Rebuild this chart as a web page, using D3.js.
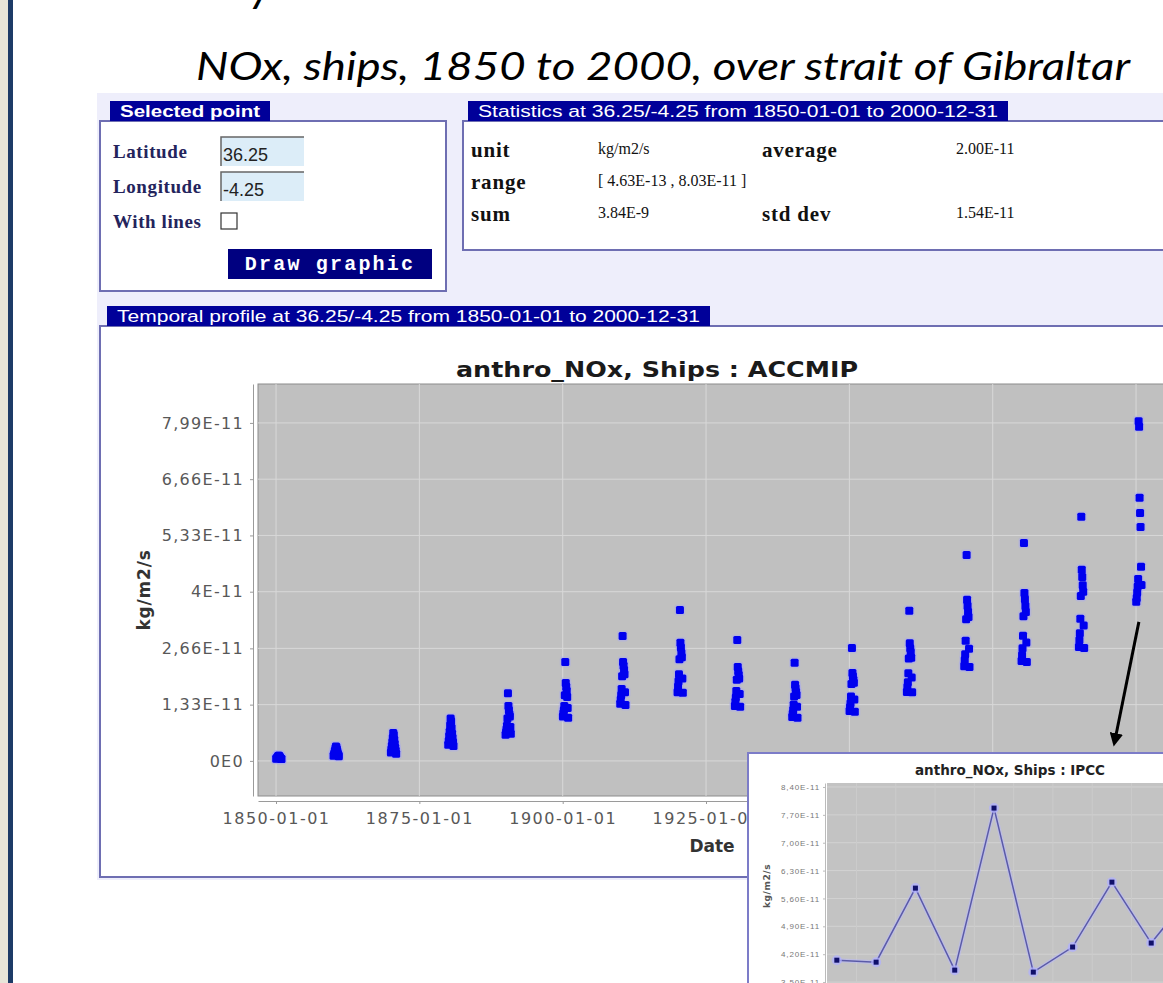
<!DOCTYPE html>
<html>
<head>
<meta charset="utf-8">
<script src="https://cdn.jsdelivr.net/npm/d3@7"></script>
<style>
  body { margin: 0; background: #fff; }
  svg { display: block; }
</style>
</head>
<body>
<div id="chart"></div>
<script>
// ---- data (values in 1e-11 kg/m2/s) ----
var decades = [1850, 1860, 1870, 1880, 1890, 1900, 1910, 1920, 1930, 1940, 1950, 1960, 1970, 1980, 1990, 2000]
// 12 monthly values for each decade year, Jan..Dec
var noxByDecade = [
  [0.05, 0.06, 0.07, 0.09, 0.11, 0.12, 0.12, 0.10, 0.08, 0.06, 0.05, 0.046],
  [0.12, 0.15, 0.19, 0.24, 0.29, 0.34, 0.32, 0.27, 0.22, 0.17, 0.14, 0.11],
  [0.20, 0.27, 0.35, 0.44, 0.54, 0.66, 0.61, 0.50, 0.40, 0.31, 0.24, 0.17],
  [0.38, 0.47, 0.58, 0.69, 0.84, 1.00, 0.94, 0.78, 0.64, 0.54, 0.44, 0.35],
  [0.62, 0.68, 0.75, 0.83, 1.00, 1.60, 1.30, 1.20, 1.10, 1.05, 0.80, 0.64],
  [1.05, 1.12, 1.20, 1.30, 1.55, 2.34, 1.84, 1.75, 1.65, 1.51, 1.25, 1.02],
  [1.35, 1.45, 1.55, 1.70, 2.00, 2.95, 2.34, 2.25, 2.15, 2.05, 1.62, 1.32],
  [1.62, 1.75, 1.88, 2.05, 2.40, 3.57, 2.79, 2.68, 2.55, 2.45, 1.95, 1.61],
  [1.30, 1.40, 1.50, 1.65, 1.92, 2.86, 2.22, 2.12, 2.03, 1.95, 1.58, 1.28],
  [1.04, 1.12, 1.20, 1.33, 1.52, 2.32, 1.80, 1.72, 1.63, 1.56, 1.28, 1.02],
  [1.18, 1.27, 1.36, 1.52, 1.82, 2.67, 2.08, 2.00, 1.92, 1.85, 1.45, 1.16],
  [1.63, 1.74, 1.86, 2.07, 2.42, 3.55, 2.78, 2.66, 2.57, 2.44, 1.97, 1.62],
  [2.24, 2.38, 2.52, 2.84, 3.35, 4.87, 3.81, 3.66, 3.52, 3.40, 2.65, 2.22],
  [2.36, 2.50, 2.66, 2.96, 3.42, 5.15, 3.97, 3.82, 3.66, 3.52, 2.80, 2.34],
  [2.69, 2.85, 3.02, 3.36, 3.90, 5.77, 4.52, 4.35, 4.15, 4.00, 3.20, 2.67],
  [3.76, 3.85, 3.98, 4.12, 4.30, 8.03, 7.90, 6.22, 5.86, 5.53, 4.59, 4.16]
]
var yTickValues = [0, 1.33, 2.66, 4, 5.33, 6.66, 7.99]
var yTickLabels = ["0E0", "1,33E-11", "2,66E-11", "4E-11", "5,33E-11", "6,66E-11", "7,99E-11"]
var xTickDates = ["1850-01-01", "1875-01-01", "1900-01-01", "1925-01-01", "1950-01-01", "1975-01-01", "2000-01-01"]

// inset (IPCC) series
var insetMonths = [0, 1, 2, 3, 4, 5, 6, 7, 8, 9]
var insetValues = [4.05, 4.00, 5.86, 3.80, 7.87, 3.75, 4.38, 6.01, 4.48, 5.70]
var insetTickValues = [8.4, 7.7, 7.0, 6.3, 5.6, 4.9, 4.2, 3.5]
var insetTickLabels = ["8,40E-11", "7,70E-11", "7,00E-11", "6,30E-11", "5,60E-11", "4,90E-11", "4,20E-11", "3,50E-11"]

// form + statistics text
var pointFields = [["Latitude", "36.25"], ["Longitude", "-4.25"]]
var statsLeft = [["unit", "kg/m2/s"], ["range", "[ 4.63E-13 , 8.03E-11 ]"], ["sum", "3.84E-9"]]
var statsRight = [["average", "2.00E-11"], null, ["std dev", "1.54E-11"]]

var W = 1163, H = 983
var navy = "#000099", boxStroke = "#6e6eb2"

var svg = d3.select("#chart").append("svg")
    .attr("width", W)
    .attr("height", H)
    .style("font-family", "'DejaVu Sans', sans-serif")

// page frame
svg.append("rect").attr("x", 0).attr("y", 0).attr("width", 8).attr("height", H).attr("fill", "#e8e5d9")
svg.append("rect").attr("x", 8).attr("y", 0).attr("width", 5).attr("height", H).attr("fill", "#1d3b67")
svg.append("rect").attr("x", 97).attr("y", 93).attr("width", W - 97).attr("height", 787).attr("fill", "#eeeefb")

// slide title (cut off at top) and subtitle
svg.append("text")
    .attr("x", 250).attr("y", 1)
    .style("font-family", "Lato, sans-serif").style("font-style", "italic")
    .attr("font-size", 46)
    .text("y")
svg.append("text")
    .attr("x", 196).attr("y", 80)
    .attr("textLength", 934).attr("lengthAdjust", "spacingAndGlyphs")
    .style("font-family", "Lato, sans-serif").style("font-style", "italic")
    .attr("font-size", 38)
    .attr("fill", "#000")
    .text("NOx, ships, 1850 to 2000, over strait of Gibraltar")

function panel(x, y, w, h, tabX, tabW, title, bold) {
  svg.append("rect").attr("x", x).attr("y", y).attr("width", w).attr("height", h)
      .attr("fill", "#fff").attr("stroke", boxStroke).attr("stroke-width", 2)
  svg.append("rect").attr("x", tabX).attr("y", y - 20).attr("width", tabW).attr("height", 20).attr("fill", navy)
  svg.append("text")
      .attr("x", tabX + 10).attr("y", y - 4)
      .attr("textLength", tabW - 20).attr("lengthAdjust", "spacingAndGlyphs")
      .style("font-family", "'Liberation Sans', Arial, sans-serif")
      .attr("font-weight", bold ? "bold" : "normal")
      .attr("font-size", 16).attr("fill", "#fff")
      .text(title)
}

// ---- Selected point panel ----
panel(100, 121, 346, 170, 110, 160, "Selected point", true)
pointFields.forEach(function(f, i) {
  var by = 158 + i * 35
  svg.append("text").attr("x", 113).attr("y", by)
      .style("font-family", "'Liberation Serif', serif").attr("font-weight", "bold")
      .attr("font-size", 19).attr("letter-spacing", 0.6).attr("fill", "#24245c").text(f[0])
  svg.append("rect").attr("x", 221).attr("y", by - 21).attr("width", 83).attr("height", 29)
      .attr("fill", "#dcedf8")
  svg.append("path").attr("d", "M221," + (by + 8) + "V" + (by - 21) + "H304")
      .attr("fill", "none").attr("stroke", "#666").attr("stroke-width", 1.5)
  svg.append("text").attr("x", 223).attr("y", by + 3)
      .style("font-family", "'Liberation Sans', Arial, sans-serif")
      .attr("font-size", 18).attr("fill", "#222").text(f[1])
})
svg.append("text").attr("x", 113).attr("y", 228)
    .style("font-family", "'Liberation Serif', serif").attr("font-weight", "bold")
    .attr("font-size", 19).attr("letter-spacing", 0.6).attr("fill", "#24245c").text("With lines")
svg.append("rect").attr("x", 221).attr("y", 213).attr("width", 16).attr("height", 16)
    .attr("fill", "#fff").attr("stroke", "#333").attr("stroke-width", 1.2)
svg.append("rect").attr("x", 228).attr("y", 249).attr("width", 204).attr("height", 30).attr("fill", "#000080")
svg.append("text").attr("x", 330).attr("y", 270).attr("text-anchor", "middle")
    .style("font-family", "'Liberation Mono', 'Courier New', monospace").attr("font-weight", "bold")
    .attr("font-size", 20).attr("letter-spacing", 2.2).attr("fill", "#fff").text("Draw graphic")

// ---- Statistics panel ----
panel(463, 121, 740, 129, 468, 540, "Statistics at 36.25/-4.25 from 1850-01-01 to 2000-12-31", false)
statsLeft.forEach(function(s, i) {
  var by = 157 + i * 32
  svg.append("text").attr("x", 471).attr("y", by)
      .style("font-family", "'Liberation Serif', serif").attr("font-weight", "bold")
      .attr("font-size", 21).attr("letter-spacing", 0.8).attr("fill", "#111").text(s[0])
  svg.append("text").attr("x", 598).attr("y", by - 3)
      .style("font-family", "'Liberation Serif', serif")
      .attr("font-size", 16).attr("fill", "#111").text(s[1])
  var r = statsRight[i]
  if (r) {
    svg.append("text").attr("x", 762).attr("y", by)
        .style("font-family", "'Liberation Serif', serif").attr("font-weight", "bold")
        .attr("font-size", 21).attr("letter-spacing", 0.8).attr("fill", "#111").text(r[0])
    svg.append("text").attr("x", 956).attr("y", by - 3)
        .style("font-family", "'Liberation Serif', serif")
        .attr("font-size", 16).attr("fill", "#111").text(r[1])
  }
})

// ---- Temporal profile panel ----
panel(100, 326, 1100, 551, 107, 603, "Temporal profile at 36.25/-4.25 from 1850-01-01 to 2000-12-31", false)

var plot = {left: 258, top: 384, right: 1175, bottom: 796}
var parseDay = d3.utcParse("%Y-%m-%d")

var x = d3.scaleUtc()
    .domain([new Date(Date.UTC(1846, 10, 10)), new Date(Date.UTC(2006, 9, 19))])
    .range([plot.left, plot.right])
var y = d3.scaleLinear()
    .domain([-0.83, 8.91])
    .range([plot.bottom, plot.top])

svg.append("text")
    .attr("x", 456).attr("y", 377)
    .attr("textLength", 402).attr("lengthAdjust", "spacingAndGlyphs")
    .attr("font-size", 22).attr("font-weight", "bold").attr("fill", "#1a1a1a")
    .text("anthro_NOx, Ships : ACCMIP")

svg.append("rect")
    .attr("x", plot.left).attr("y", plot.top)
    .attr("width", plot.right - plot.left).attr("height", plot.bottom - plot.top)
    .attr("fill", "#c0c0c0").attr("stroke", "#8c8c8c")

var grid = svg.append("g").attr("stroke", "#d8d8d8").attr("stroke-width", 1)
grid.selectAll("line.h").data(yTickValues).join("line")
    .attr("class", "h")
    .attr("x1", plot.left).attr("x2", plot.right)
    .attr("y1", d => y(d)).attr("y2", d => y(d))
grid.selectAll("line.v").data(xTickDates).join("line")
    .attr("class", "v")
    .attr("y1", plot.top).attr("y2", plot.bottom)
    .attr("x1", d => x(parseDay(d))).attr("x2", d => x(parseDay(d)))

var points = []
decades.forEach(function(yr, i) {
  noxByDecade[i].forEach(function(v, m) {
    points.push({date: new Date(Date.UTC(yr, m, 15)), v: v})
  })
})

// soft halo under the markers, then the markers
svg.append("g")
  .selectAll("rect")
  .data(points)
  .join("rect")
    .attr("x", d => x(d.date) - 5.5)
    .attr("y", d => y(d.v) - 5.5)
    .attr("width", 11)
    .attr("height", 11)
    .attr("rx", 3)
    .attr("fill", "#a9a9f2")
    .attr("opacity", 0.45)
svg.append("g")
  .selectAll("rect")
  .data(points)
  .join("rect")
    .attr("x", d => x(d.date) - 4)
    .attr("y", d => y(d.v) - 4)
    .attr("width", 8)
    .attr("height", 8)
    .attr("rx", 1.5)
    .attr("fill", "#0000ee")

// axes
function styleAxis(g, size, spacing) {
  g.select(".domain").attr("stroke", "#9a9a9a")
  g.selectAll(".tick line").attr("stroke", "#9a9a9a")
  g.selectAll(".tick text").attr("fill", "#585858").attr("font-size", size)
      .style("font-family", "'DejaVu Sans', sans-serif").attr("letter-spacing", spacing)
}
svg.append("g")
    .attr("transform", "translate(" + (plot.left - 5) + ",0)")
    .call(d3.axisLeft(y).tickValues(yTickValues).tickFormat((d, i) => yTickLabels[i]).tickSize(3).tickSizeOuter(0).tickPadding(6))
    .call(g => styleAxis(g, 16, 1.3))
svg.append("g")
    .attr("transform", "translate(0," + (plot.bottom + 5) + ")")
    .call(d3.axisBottom(x).tickValues(xTickDates.map(parseDay)).tickFormat(d3.utcFormat("%Y-%m-%d")).tickSize(3).tickSizeOuter(0).tickPadding(9))
    .call(g => styleAxis(g, 16, 1.5))

svg.append("text")
    .attr("transform", "translate(150,590) rotate(-90)")
    .attr("text-anchor", "middle")
    .attr("font-size", 17).attr("font-weight", "bold").attr("letter-spacing", 0.8).attr("fill", "#333")
    .text("kg/m2/s")
svg.append("text")
    .attr("x", 712).attr("y", 852).attr("text-anchor", "middle")
    .attr("font-size", 17).attr("font-weight", "bold").attr("fill", "#333")
    .text("Date")

// ---- arrow to inset ----
var last = noxByDecade[noxByDecade.length - 1]
var arrowStart = [x(new Date(Date.UTC(2000, 6, 1))), y(d3.min(last)) + 20]
var arrowEnd = [1115, 740]
svg.append("defs").append("marker")
    .attr("id", "head").attr("viewBox", "0 0 10 10").attr("refX", 5).attr("refY", 5)
    .attr("markerWidth", 4.5).attr("markerHeight", 4.5).attr("orient", "auto")
  .append("path").attr("d", "M0,0L10,5L0,10Z").attr("fill", "#000")
svg.append("line")
    .attr("x1", arrowStart[0]).attr("y1", arrowStart[1])
    .attr("x2", arrowEnd[0]).attr("y2", arrowEnd[1])
    .attr("stroke", "#000").attr("stroke-width", 3)
    .attr("marker-end", "url(#head)")

// ---- inset IPCC chart ----
var inset = {left: 827, top: 783, right: 1175, bottom: 1000}
var ix = d3.scaleLinear().domain([-0.25, 8.3]).range([inset.left, 1163])
var iy = d3.scaleLinear().domain([8.5, 3.05]).range([inset.top, inset.bottom])

svg.append("clipPath").attr("id", "insetClip")
  .append("rect").attr("x", inset.left).attr("y", inset.top)
    .attr("width", inset.right - inset.left).attr("height", inset.bottom - inset.top)

svg.append("rect")
    .attr("x", 748).attr("y", 753).attr("width", 440).attr("height", 250)
    .attr("fill", "#fff").attr("stroke", "#7c7cc8").attr("stroke-width", 2)
svg.append("text")
    .attr("x", 1010).attr("y", 775).attr("text-anchor", "middle")
    .attr("font-size", 13.5).attr("font-weight", "bold").attr("fill", "#222")
    .text("anthro_NOx, Ships : IPCC")
svg.append("rect")
    .attr("x", inset.left).attr("y", inset.top)
    .attr("width", inset.right - inset.left).attr("height", inset.bottom - inset.top)
    .attr("fill", "#c3c3c3")

var ig = svg.append("g").attr("clip-path", "url(#insetClip)")
ig.selectAll("line.h").data(insetTickValues).join("line")
    .attr("class", "h")
    .attr("x1", inset.left).attr("x2", inset.right)
    .attr("y1", d => iy(d)).attr("y2", d => iy(d))
    .attr("stroke", "#d2d2d2")
ig.selectAll("line.v").data(insetMonths).join("line")
    .attr("class", "v")
    .attr("x1", d => ix(d + 0.5)).attr("x2", d => ix(d + 0.5))
    .attr("y1", inset.top).attr("y2", inset.bottom)
    .attr("stroke", "#cbcbcb")

var line = d3.line().x((d, i) => ix(insetMonths[i])).y(d => iy(d))
ig.append("path").datum(insetValues)
    .attr("d", line).attr("fill", "none")
    .attr("stroke", "#b8b8ff").attr("stroke-width", 4).attr("stroke-opacity", 0.5)
ig.append("path").datum(insetValues)
    .attr("d", line).attr("fill", "none")
    .attr("stroke", "#5a5aa8").attr("stroke-width", 1.5)
ig.selectAll("circle").data(insetValues).join("circle")
    .attr("cx", (d, i) => ix(insetMonths[i])).attr("cy", d => iy(d))
    .attr("r", 5).attr("fill", "#b0b0ff").attr("opacity", 0.75)
ig.selectAll("rect.pt").data(insetValues).join("rect")
    .attr("class", "pt")
    .attr("x", (d, i) => ix(insetMonths[i]) - 2.5).attr("y", d => iy(d) - 2.5)
    .attr("width", 5).attr("height", 5).attr("fill", "#10106a")

svg.append("g")
    .attr("transform", "translate(" + (inset.left - 2) + ",0)")
    .call(d3.axisLeft(iy).tickValues(insetTickValues).tickFormat((d, i) => insetTickLabels[i]).tickSize(2).tickSizeOuter(0).tickPadding(3))
    .call(function(g) {
      g.select(".domain").attr("stroke", "#bbb")
      g.selectAll(".tick line").attr("stroke", "#bbb")
      g.selectAll(".tick text").attr("fill", "#777").attr("font-size", 8).attr("letter-spacing", 0.9)
    })
svg.append("text")
    .attr("transform", "translate(770,886) rotate(-90)")
    .attr("text-anchor", "middle")
    .attr("font-size", 9).attr("font-weight", "bold").attr("letter-spacing", 0.6).attr("fill", "#555")
    .text("kg/m2/s")
</script>
</body>
</html>
